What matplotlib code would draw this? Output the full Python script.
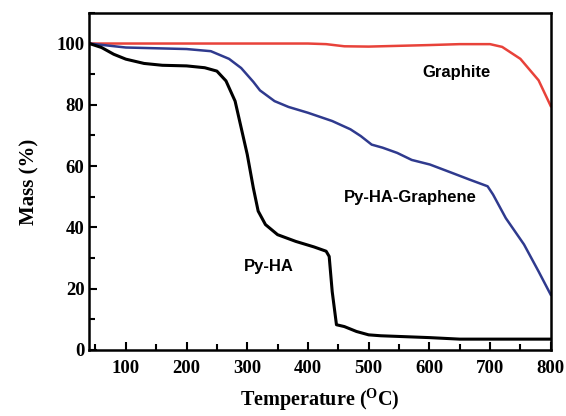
import matplotlib.pyplot as plt
from matplotlib.ticker import MultipleLocator

# Graphite
t_graphite = [40, 100, 200, 300, 400, 430, 460, 500, 520, 600, 650, 700, 720, 750, 780, 800]
m_graphite = [100, 100, 100, 100, 100, 99.8, 99.1, 99.0, 99.1, 99.5, 99.8, 99.8, 98.9, 95.0, 88.0, 79.6]

# Py-HA-Graphene
t_graphene = [40, 100, 200, 240, 270, 290, 310, 321, 345, 368, 400, 440, 470, 487, 505,
              523, 547, 571, 601, 637, 666, 696, 705, 726, 756, 780, 800]
m_graphene = [100, 98.7, 98.2, 97.5, 95.0, 92.0, 87.5, 84.7, 81.2, 79.3, 77.4, 74.7, 72.0, 69.8, 67.0,
              66.0, 64.3, 62.0, 60.5, 57.8, 55.6, 53.4, 50.7, 43.0, 34.4, 25.6, 18.0]

# Py-HA
t_pyha = [40, 60, 80, 100, 130, 160, 200, 230, 250, 265, 280, 290, 300, 310, 318, 330,
          350, 380, 410, 430, 435, 440, 447, 460, 480, 500, 520, 600, 650, 800]
m_pyha = [100, 98.7, 96.5, 94.9, 93.5, 92.9, 92.7, 92.1, 91.0, 87.8, 81.2, 72.5, 63.8, 52.9, 45.3, 40.9,
          37.6, 35.4, 33.6, 32.2, 30.5, 19.0, 8.2, 7.6, 6.0, 4.9, 4.6, 4.0, 3.5, 3.5]

serif = "Liberation Serif"
sans = "Liberation Sans"

plt.rcParams["mathtext.fontset"] = "custom"
plt.rcParams["mathtext.rm"] = serif
plt.rcParams["mathtext.bf"] = serif + ":bold"

fig = plt.figure(figsize=(5.66, 4.16), dpi=100)
ax = fig.add_axes([0.158, 0.159, 0.815, 0.81])

ax.plot(t_graphite, m_graphite, color="#e8423a", lw=1.8)
ax.plot(t_graphene, m_graphene, color="#2f3a8e", lw=1.8)
ax.plot(t_pyha, m_pyha, color="black", lw=2.2)

ax.text(645, 90.5, "Graphite", ha="center", va="center",
        fontsize=12, fontweight="bold", family=sans)
ax.text(568, 49.6, "Py-HA-Graphene", ha="center", va="center",
        fontsize=12, fontweight="bold", family=sans)
ax.text(335, 27.3, "Py-HA", ha="center", va="center",
        fontsize=12, fontweight="bold", family=sans)

ax.set_xlim(40, 800)
ax.set_ylim(0, 110)
ax.xaxis.set_major_locator(MultipleLocator(100))
ax.xaxis.set_minor_locator(MultipleLocator(50))
ax.yaxis.set_major_locator(MultipleLocator(20))
ax.yaxis.set_minor_locator(MultipleLocator(10))
ax.tick_params(which="both", direction="in", width=1.5)
ax.tick_params(which="major", length=6)
ax.tick_params(which="minor", length=4)
ax.tick_params(axis="x", pad=7)
for s in ax.spines.values():
    s.set_linewidth(1.8)

for lab in ax.get_xticklabels() + ax.get_yticklabels():
    lab.set_family(serif)
    lab.set_fontweight("bold")
    lab.set_fontsize(13.5)

ax.set_xlabel(r"Temperature ($\mathbf{^{O}}$C)", family=serif, fontweight="bold",
              fontsize=14.5, labelpad=7)
ax.set_ylabel("Mass (%)", family=serif, fontweight="bold", fontsize=15, labelpad=12)

fig.savefig("out.png", dpi=100)
